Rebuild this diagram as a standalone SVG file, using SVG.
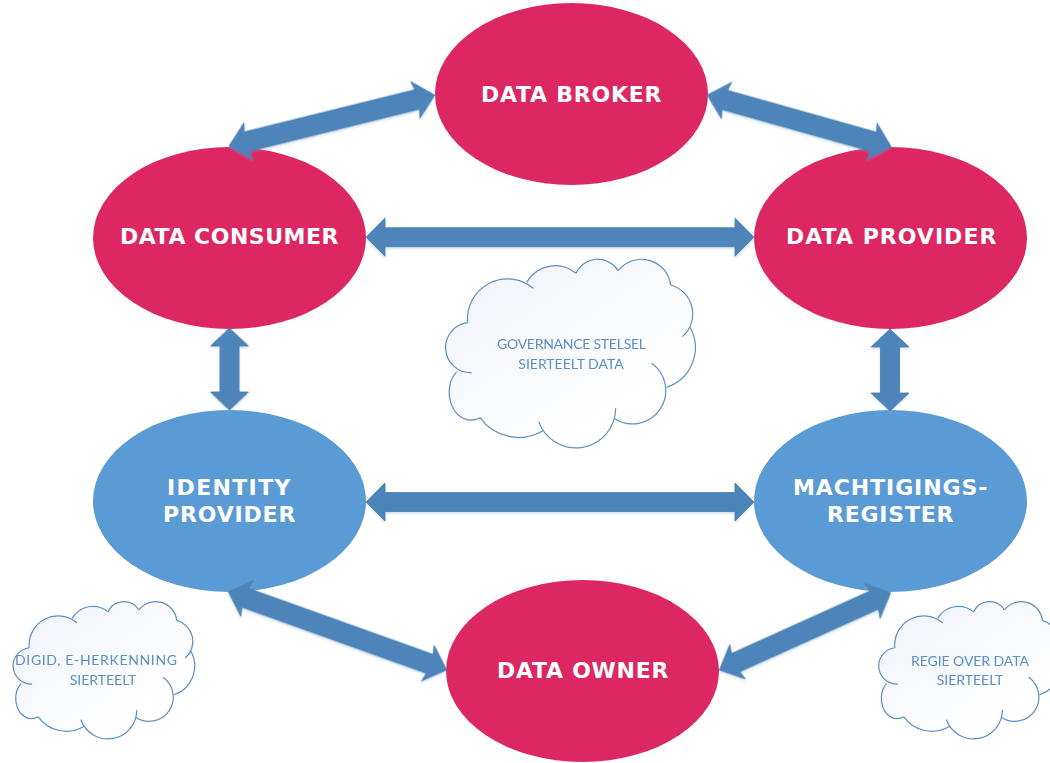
<svg xmlns="http://www.w3.org/2000/svg" xmlns:xlink="http://www.w3.org/1999/xlink" width="1050" height="763" viewBox="0 0 1050 763">
<style>
.pink{fill:#dc2763}
.blue{fill:#5b9bd5}
.lbl{font-family:"DejaVu Sans",Verdana,sans-serif;font-weight:700;font-size:22px;fill:#fff;text-anchor:middle;letter-spacing:.6px}
.cl{font-family:Lato,"Open Sans",sans-serif;font-size:14px;fill:#5b8fc6;text-anchor:middle}
.cf{fill:url(#cg);stroke:none}
.cs{fill:none;stroke:#5a90c6;stroke-width:1.2;vector-effect:non-scaling-stroke}
.ar{fill:#4d85ba;stroke:#4a7eae;stroke-width:.8}
</style>
<defs>
<linearGradient id="cg" x1="0.1" y1="0.1" x2="0.7" y2="0.8"><stop offset="0" stop-color="#f1f4fa"/><stop offset="1" stop-color="#fff"/></linearGradient>
<filter id="sh" x="-5%" y="-20%" width="110%" height="140%"><feDropShadow dx="0" dy="1.5" stdDeviation="1.2" flood-color="#7fa8d0" flood-opacity=".4"/></filter>
<g id="cloud">
<path class="cf" d="M113 218A120 120 0 0 1 310 115ZM290 97A98 98 0 0 1 438 70ZM438 70A72 72 0 0 1 565 62ZM565 62A88 88 0 0 1 722 105ZM722 105A90 90 0 0 1 757 260ZM780 232A125 125 0 0 1 710 412ZM665 340A100 100 0 0 1 552 505ZM557 475A119 119 0 0 1 326 515ZM338 543A143 143 0 0 1 150 503ZM150 503C120 520 70 510 58 440C55 405 65 380 80 365ZM125 368A75.3 75.3 0 0 1 113 218ZM113 218L290 97 438 70 565 62 722 105 780 232 710 412 552 505 338 543 150 503 80 365Z"/>
<path class="cs" d="M113 218A120 120 0 0 1 310 115M290 97A98 98 0 0 1 438 70M438 70A72 72 0 0 1 565 62M565 62A88 88 0 0 1 722 105M722 105A90 90 0 0 1 757 260M780 232A125 125 0 0 1 710 412M665 340A100 100 0 0 1 552 505M557 475A119 119 0 0 1 326 515M338 543A143 143 0 0 1 150 503M150 503C120 520 70 510 58 440C55 405 65 380 80 365M125 368A75.3 75.3 0 0 1 113 218"/>
</g>
</defs>

<g id="node-data-broker"><ellipse class="pink" cx="571.5" cy="94" rx="136.5" ry="91"/><text class="lbl" x="571.5" y="102" textLength="181">DATA BROKER</text></g>
<g id="node-data-consumer"><ellipse class="pink" cx="229.5" cy="238" rx="136.5" ry="91"/><text class="lbl" x="229.5" y="244" textLength="219">DATA CONSUMER</text></g>
<g id="node-data-provider"><ellipse class="pink" cx="890.5" cy="238" rx="136.5" ry="91"/><text class="lbl" x="891.5" y="244" textLength="211">DATA PROVIDER</text></g>
<g id="node-identity-provider"><ellipse class="blue" cx="229.5" cy="501" rx="136.5" ry="91"/><text class="lbl" x="229" y="495" textLength="124">IDENTITY</text><text class="lbl" x="229.5" y="522" textLength="133">PROVIDER</text></g>
<g id="node-machtigingsregister"><ellipse class="blue" cx="890.5" cy="501" rx="136.5" ry="91"/><text class="lbl" x="890.5" y="495" textLength="195">MACHTIGINGS-</text><text class="lbl" x="890.5" y="522" textLength="127">REGISTER</text></g>
<g id="node-data-owner"><ellipse class="pink" cx="582.5" cy="671" rx="136.5" ry="91"/><text class="lbl" x="583" y="678" textLength="172">DATA OWNER</text></g>

<g id="connectors" filter="url(#sh)">
<polygon class="ar" transform="translate(366 237.2)" points="0,0 19,-19 19,-9.5 369,-9.5 369,-19 388,0 369,19 369,9.5 19,9.5 19,19"/>
<polygon class="ar" transform="translate(366 502)" points="0,0 19,-19 19,-9.5 369,-9.5 369,-19 388,0 369,19 369,9.5 19,9.5 19,19"/>
<polygon class="ar" transform="translate(229.5 328) rotate(90)" points="0,0 18,-19 18,-9.5 64,-9.5 64,-19 82,0 64,19 64,9.5 18,9.5 18,19"/>
<polygon class="ar" transform="translate(890 329) rotate(90)" points="0,0 18,-19 18,-9.5 64,-9.5 64,-19 82,0 64,19 64,9.5 18,9.5 18,19"/>
<polygon class="ar" transform="translate(229 146) rotate(-13.9)" points="0,0 20,-19 18,-10 194,-10 192,-19 212,0 192,19 194,10 18,10 20,19"/>
<polygon class="ar" transform="translate(707.3 95) rotate(15.7)" points="0,0 20,-19 18,-10 173,-10 171,-19 191,0 171,19 173,10 18,10 20,19"/>
<polygon class="ar" transform="translate(228.3 591.7) rotate(19.7)" points="0,0 20,-19 18,-10 214,-10 212,-19 232,0 212,19 214,10 18,10 20,19"/>
<polygon class="ar" transform="translate(719.3 670) rotate(-24.3)" points="0,0 20,-19 18,-10 170,-10 168,-19 188,0 168,19 170,10 18,10 20,19"/>
</g>

<g id="cloud-governance"><use xlink:href="#cloud" href="#cloud" transform="translate(430 250) scale(.3333)"/><text class="cl" x="571.5" y="349" textLength="149">GOVERNANCE STELSEL</text><text class="cl" x="571" y="369">SIERTEELT DATA</text></g>
<g id="cloud-digid"><use xlink:href="#cloud" href="#cloud" transform="translate(1.8 594.9) scale(.2424)"/><text class="cl" x="96" y="665" textLength="162">DIGID, E-HERKENNING</text><text class="cl" x="103" y="685">SIERTEELT</text></g>
<g id="cloud-regie"><use xlink:href="#cloud" href="#cloud" transform="translate(867.4 594.9) scale(.2424)"/><text class="cl" x="970" y="666" textLength="118">REGIE OVER DATA</text><text class="cl" x="970" y="685">SIERTEELT</text></g>
</svg>
